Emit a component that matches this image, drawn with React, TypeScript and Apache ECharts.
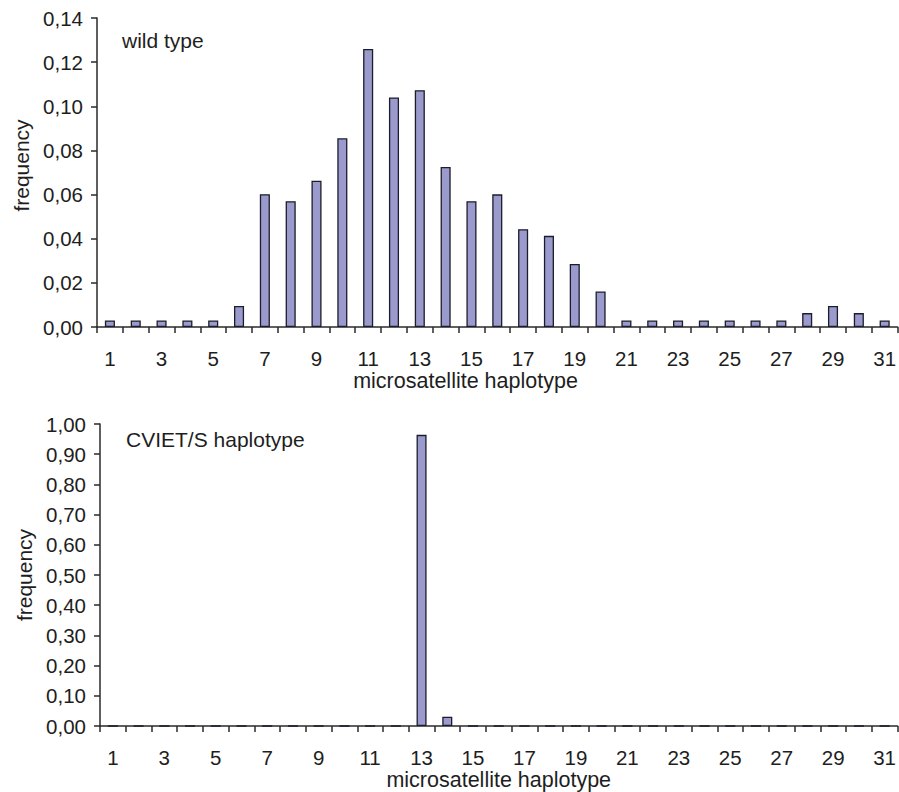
import React, { useEffect, useRef } from "react";
import * as echarts from "echarts";

const haplotypes = Array.from({ length: 31 }, (_, i) => String(i + 1));

const wildTypeFreq = [
  0.003, 0.003, 0.003, 0.003, 0.003, 0.0095, 0.0602, 0.057, 0.0663, 0.0855,
  0.126, 0.104, 0.1073, 0.0725, 0.057, 0.0601, 0.0443, 0.0413, 0.0286, 0.0161,
  0.003, 0.003, 0.003, 0.003, 0.003, 0.003, 0.003, 0.0063, 0.0095, 0.0063, 0.003,
];

const cvietFreq = [
  0, 0, 0, 0, 0, 0, 0, 0, 0, 0,
  0, 0, 0.964, 0.031, 0, 0, 0, 0, 0, 0,
  0, 0, 0, 0, 0, 0, 0, 0, 0, 0, 0,
];

const topTitle = "wild type";
const bottomTitle = "CVIET/S haplotype";
const xName = "microsatellite haplotype";
const yName = "frequency";

const FONT = "'Liberation Sans', Arial, Helvetica, sans-serif";
const TEXT = "#1e1e1e";
const AXIS = "#2a2a2a";
const BAR_FILL = "#9a9acd";
const BAR_BORDER = "#1c1c2c";

export default function App() {
  const ref = useRef<HTMLDivElement>(null);

  useEffect(() => {
    if (!ref.current) return;
    const chart = echarts.init(ref.current, null, { renderer: "svg" });

    const xAxisBase = (gridIndex: number, withName: boolean) => ({
      type: "category",
      gridIndex,
      data: haplotypes,
      boundaryGap: true,
      name: withName ? xName : "",
      nameLocation: "middle",
      nameGap: 43,
      nameTextStyle: { fontFamily: FONT, fontSize: 21.5, color: TEXT },
      axisLine: { show: true, lineStyle: { color: AXIS, width: 1.5 } },
      axisTick: { show: true, interval: 0, length: 6, lineStyle: { color: AXIS, width: 1.5 } },
      axisLabel: { interval: 1, margin: 21, fontFamily: FONT, fontSize: 20.5, color: TEXT },
      splitLine: { show: false },
    });

    const yAxisBase = (gridIndex: number, max: number, interval: number, pad: number[]) => ({
      type: "value",
      gridIndex,
      min: 0,
      max,
      interval,
      name: yName,
      nameLocation: "middle",
      nameGap: 62,
      nameRotate: 90,
      nameTextStyle: { fontFamily: FONT, fontSize: 21, color: TEXT, padding: pad },
      axisLine: { show: true, lineStyle: { color: AXIS, width: 1.5 } },
      axisTick: { show: true, length: 6, inside: false, lineStyle: { color: AXIS, width: 1.5 } },
      axisLabel: {
        margin: 14,
        fontFamily: FONT,
        fontSize: 20.5,
        color: TEXT,
        formatter: (v: number) => v.toFixed(2).replace(".", ","),
      },
      splitLine: { show: false },
    });

    const barStyle = { color: BAR_FILL, borderColor: BAR_BORDER, borderWidth: 1.3 };

    chart.setOption({
      animation: false,
      backgroundColor: "#ffffff",
      grid: [
        { left: 97, top: 18, width: 804.5, height: 309 },
        { left: 100, top: 424, width: 798.6, height: 302.7 },
      ],
      xAxis: [xAxisBase(0, false), xAxisBase(1, true)],
      yAxis: [
        yAxisBase(0, 0.14, 0.02, [0, 0, 0, 14]),
        yAxisBase(1, 1.0, 0.1, [0, 0, 0, 0]),
      ],
      series: [
        {
          type: "bar",
          xAxisIndex: 0,
          yAxisIndex: 0,
          data: wildTypeFreq,
          barWidth: "39%",
          itemStyle: barStyle,
        },
        {
          type: "bar",
          xAxisIndex: 1,
          yAxisIndex: 1,
          data: cvietFreq,
          barWidth: "39%",
          itemStyle: barStyle,
        },
      ],
      graphic: [
        {
          type: "text",
          x: 122,
          y: 40,
          style: {
            text: topTitle,
            font: `21px ${FONT}`,
            fill: TEXT,
            align: "left",
            verticalAlign: "middle",
          },
        },
        {
          type: "text",
          x: 126,
          y: 439,
          style: {
            text: bottomTitle,
            font: `21px ${FONT}`,
            fill: TEXT,
            align: "left",
            verticalAlign: "middle",
          },
        },
        {
          type: "text",
          x: 465.5,
          y: 381,
          style: {
            text: xName,
            font: `21.5px ${FONT}`,
            fill: TEXT,
            align: "center",
            verticalAlign: "middle",
          },
        },
      ],
    });

    return () => chart.dispose();
  }, []);

  return (
    <div
      ref={ref}
      style={{ position: "absolute", left: 0, top: 0, width: 899, height: 792, background: "#fff" }}
    />
  );
}
